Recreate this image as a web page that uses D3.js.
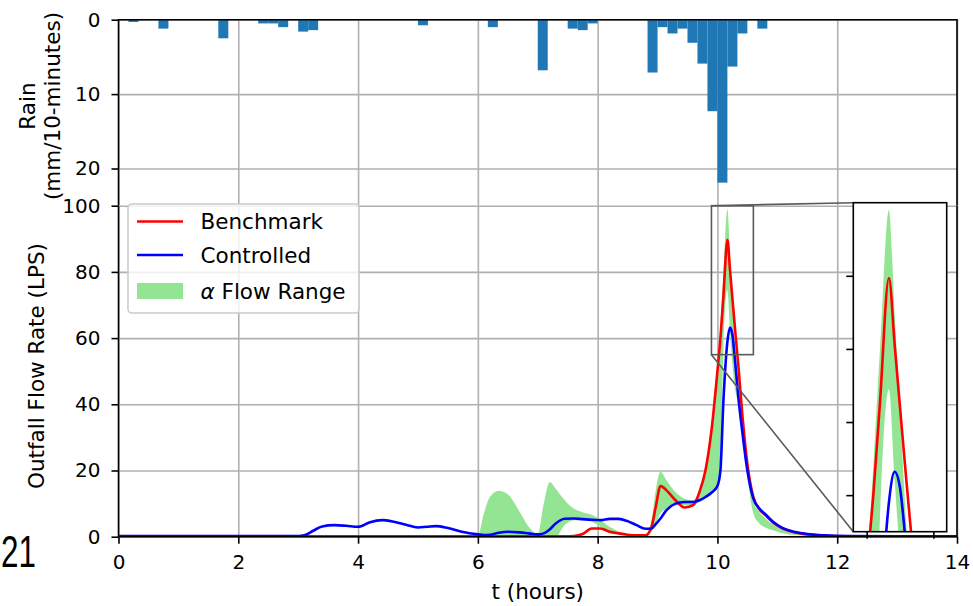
<!DOCTYPE html>
<html>
<head>
<meta charset="utf-8">
<script src="https://cdn.jsdelivr.net/npm/d3@7"></script>
<style>
  html, body { margin: 0; padding: 0; background: #fff; }
  svg { display: block; font-family: "DejaVu Sans", sans-serif; }
</style>
</head>
<body>
<svg id="chart" width="973" height="606"></svg>
<script>
// ---------------- DATA ----------------
// Rain: 10-minute bins (start time in hours), depth in mm
const rainTime = [0.1667, 0.6667, 1.6667, 2.3333, 2.5, 2.6667, 3.0, 3.1667, 5.0, 6.1667,
                  7.0, 7.5, 7.6667, 7.8333, 8.8333, 9.0, 9.1667, 9.3333, 9.5, 9.6667,
                  9.8333, 10.0, 10.1667, 10.3333, 10.6667];
const rainMm   = [0.3, 1.2, 2.5, 0.5, 0.5, 1.0, 1.6, 1.4, 0.75, 1.0,
                  6.8, 1.2, 1.4, 0.5, 7.1, 1.0, 1.85, 1.2, 3.1, 5.9,
                  12.3, 21.9, 6.3, 1.85, 1.2];

// Flow series (hours, LPS)
const timeH = [0, 1, 2, 3.0, 3.1, 3.25, 3.4, 3.6, 3.8, 4.0,
               4.2, 4.4, 4.6, 4.8, 5.0, 5.15, 5.3, 5.5, 5.75, 6.0,
               6.1, 6.2, 6.35, 6.5, 6.7, 6.85, 7.0, 7.1, 7.2, 7.3,
               7.45, 7.6, 7.75, 7.9, 8.05, 8.2, 8.35, 8.5, 8.65, 8.8,
               8.9, 8.97, 9.05, 9.15, 9.3, 9.45, 9.6, 9.7, 9.8, 9.9,
               10.0, 10.05, 10.1, 10.167, 10.21, 10.25, 10.3, 10.35, 10.42, 10.5,
               10.6, 10.7, 10.8, 10.95, 11.1, 11.3, 11.5, 11.8, 12.2, 13,
               14];
const benchmark = [0.1, 0.1, 0.1, 0.1, 0.1, 0.1, 0.1, 0.1, 0.1, 0.1,
                   0.1, 0.1, 0.1, 0.1, 0.1, 0.1, 0.1, 0.1, 0.1, 0.1,
                   0.1, 0.1, 0.1, 0.1, 0.1, 0.1, 0.1, 0.1, 0.1, 0.1,
                   0.1, 0.2, 0.8, 2.5, 2.5, 1.5, 1.0, 0.6, 0.4, 0.4,
                   3.0, 9.0, 15.3, 14.0, 11.0, 8.8, 9.6, 13.5, 20.0, 32.0,
                   50.0, 60.0, 72.7, 89.7, 80.6, 72.0, 61.5, 51.5, 36.0, 22.0,
                   12.0, 8.3, 6.5, 4.0, 2.4, 1.3, 0.7, 0.3, 0.15, 0.1,
                   0.1];
const controlled = [0.2, 0.2, 0.2, 0.2, 0.4, 1.8, 3.1, 3.5, 3.3, 3.0,
                    4.4, 5.0, 4.5, 3.6, 2.8, 3.0, 3.2, 2.6, 1.4, 0.7,
                    0.5, 0.6, 1.2, 1.5, 1.3, 1.0, 0.7, 1.0, 2.2, 4.0,
                    5.4, 5.5, 5.3, 5.1, 5.0, 5.4, 5.4, 4.7, 3.5, 2.4,
                    2.5, 3.8, 5.5, 8.0, 10.0, 10.5, 10.5, 11.0, 12.0, 13.3,
                    15.3, 20.0, 41.0, 59.0, 63.2, 61.0, 52.0, 42.0, 31.0, 20.0,
                    11.5, 8.5, 6.8, 4.2, 2.5, 1.4, 0.8, 0.4, 0.2, 0.1,
                    0.1];
const alphaHigh = [0, 0, 0, 0, 0, 0, 0, 0, 0, 0,
                   0, 0, 0, 0, 0, 0, 0, 0, 0, 0.3,
                   7.0, 12.0, 13.9, 12.8, 7.5, 3.0, 0.8, 10.0, 16.5, 14.5,
                   11.0, 8.5, 7.4, 6.6, 5.0, 3.0, 1.6, 0.8, 0.5, 0.5,
                   5.0, 14.0, 19.6, 17.0, 13.5, 11.5, 11.0, 14.0, 20.0, 33.0,
                   50.0, 64.0, 80.0, 99.0, 84.8, 71.6, 55.2, 45.0, 32.0, 20.0,
                   10.5, 7.5, 5.5, 3.5, 2.0, 1.0, 0.5, 0.2, 0.1, 0,
                   0];
const alphaLow = [0, 0, 0, 0, 0, 0, 0, 0, 0, 0,
                  0, 0, 0, 0, 0, 0, 0, 0, 0, 0,
                  0, 0, 0, 0, 0, 0, 0, 0, 0, 0,
                  3.5, 5.0, 5.0, 4.5, 3.0, 1.5, 0.8, 0.4, 0.3, 0.3,
                  1.5, 4.0, 7.0, 8.5, 9.5, 9.5, 9.5, 10.5, 11.5, 13.0,
                  16.0, 25.0, 57.0, 74.5, 62.0, 52.0, 44.0, 40.0, 29.0, 18.0,
                  7.0, 4.0, 2.8, 1.8, 1.0, 0.5, 0.2, 0.1, 0, 0,
                  0];

const xTicks = [0, 2, 4, 6, 8, 10, 12, 14];
const rainTicks = [0, 10, 20];
const flowTicks = [0, 20, 40, 60, 80, 100];
const insetXTicks = [10.0, 10.5];
const insetYTicks = [60, 70, 80, 90];
const seriesNames = ["Benchmark", "Controlled", "Flow Range"];

// ---------------- LAYOUT ----------------
const svg = d3.select("#chart");
const X0 = 118.5, X1 = 957;
const RT = 19.7, RB = 205.7;     // rain panel top/bottom
const FT = 205.7, FB = 536.7;    // flow panel top/bottom
const IX0 = 853.3, IX1 = 946.7, IT = 202.7, IB = 531.7; // inset box

const x = d3.scaleLinear().domain([0, 14]).range([X0, X1]);
const yR = d3.scaleLinear().domain([0, 25]).range([RT, RB]);
const yF = d3.scaleLinear().domain([0, 100]).range([FB, FT]);
const xi = d3.scaleLinear().domain([9.9, 10.6]).range([IX0, IX1]);
const yi = d3.scaleLinear().domain([55, 100]).range([IB, IT]);

const GRID = "#b0b0b0", GW = 1.6, SW = 1.6, TICK = 7, FS_TICK = 20, FS_LAB = 21.5;
const RED = "#ff0000", BLUE = "#0000ff", GREEN = "#93e593", RAIN = "#1f77b4";

const rows = timeH.map((t, i) => ({t, b: benchmark[i], c: controlled[i], lo: alphaLow[i], hi: alphaHigh[i]}));

const defs = svg.append("defs");
defs.append("clipPath").attr("id", "clipR").append("rect")
  .attr("x", X0).attr("y", RT).attr("width", X1 - X0).attr("height", RB - RT);
defs.append("clipPath").attr("id", "clipF").append("rect")
  .attr("x", X0).attr("y", FT).attr("width", X1 - X0).attr("height", FB - FT);
defs.append("clipPath").attr("id", "clipI").append("rect")
  .attr("x", IX0).attr("y", IT).attr("width", IX1 - IX0).attr("height", IB - IT);

function styleAxis(g, fs) {
  g.selectAll(".domain").remove();
  g.selectAll(".tick line").attr("stroke", "#000").attr("stroke-width", SW);
  g.selectAll(".tick text").attr("fill", "#000").attr("font-size", fs)
    .attr("font-family", "DejaVu Sans, sans-serif");
}
function gridify(g) {
  g.selectAll(".domain").remove();
  g.selectAll(".tick line").attr("stroke", GRID).attr("stroke-width", GW);
  g.selectAll(".tick text").remove();
}

// ---------------- RAIN PANEL ----------------
svg.append("g").attr("transform", `translate(0,${RB})`)
  .call(d3.axisBottom(x).tickValues(xTicks).tickSize(-(RB - RT)).tickFormat(""))
  .call(gridify);
svg.append("g").attr("transform", `translate(${X0},0)`)
  .call(d3.axisLeft(yR).tickValues(rainTicks).tickSize(-(X1 - X0)).tickFormat(""))
  .call(gridify);

const rainBinW = 1 / 6;
svg.append("g").attr("clip-path", "url(#clipR)")
  .selectAll("rect").data(rainTime.map((t, i) => ({t, v: rainMm[i]})))
  .join("rect")
  .attr("x", d => x(d.t))
  .attr("width", d => x(d.t + rainBinW) - x(d.t))
  .attr("y", yR(0))
  .attr("height", d => yR(d.v) - yR(0))
  .attr("fill", RAIN);

svg.append("g").attr("transform", `translate(${X0},0)`)
  .call(d3.axisLeft(yR).tickValues(rainTicks).tickSize(TICK).tickPadding(11).tickFormat(d3.format("d")))
  .call(g => styleAxis(g, FS_TICK));

svg.append("path").attr("d", `M${X0},${RB}V${RT}H${X1}V${RB}`)
  .attr("fill", "none").attr("stroke", "#000").attr("stroke-width", SW);

const rl = svg.append("text").attr("transform", `translate(40,106) rotate(-90)`)
  .attr("text-anchor", "middle").attr("font-size", FS_LAB).attr("fill", "#000");
rl.append("tspan").attr("x", 0).attr("y", -5).text("Rain");
rl.append("tspan").attr("x", 0).attr("y", 20).text("(mm/10-minutes)");

// ---------------- FLOW PANEL ----------------
svg.append("g").attr("transform", `translate(0,${FB})`)
  .call(d3.axisBottom(x).tickValues(xTicks).tickSize(-(FB - FT)).tickFormat(""))
  .call(gridify);
svg.append("g").attr("transform", `translate(${X0},0)`)
  .call(d3.axisLeft(yF).tickValues(flowTicks).tickSize(-(X1 - X0)).tickFormat(""))
  .call(gridify);

const curve = d3.curveMonotoneX;
function drawSeries(g, xs, ys) {
  g.append("path").datum(rows)
    .attr("d", d3.area().curve(curve).x(d => xs(d.t)).y0(d => ys(d.lo)).y1(d => ys(d.hi)))
    .attr("fill", GREEN).attr("stroke", "none");
  g.append("path").datum(rows)
    .attr("d", d3.line().curve(curve).x(d => xs(d.t)).y(d => ys(d.b)))
    .attr("fill", "none").attr("stroke", RED).attr("stroke-width", 2.6).attr("stroke-linejoin", "round");
  g.append("path").datum(rows)
    .attr("d", d3.line().curve(curve).x(d => xs(d.t)).y(d => ys(d.c)))
    .attr("fill", "none").attr("stroke", BLUE).attr("stroke-width", 2.6).attr("stroke-linejoin", "round");
}
drawSeries(svg.append("g").attr("clip-path", "url(#clipF)"), x, yF);

svg.append("g").attr("transform", `translate(${X0},0)`)
  .call(d3.axisLeft(yF).tickValues(flowTicks).tickSize(TICK).tickPadding(11).tickFormat(d3.format("d")))
  .call(g => styleAxis(g, FS_TICK));
svg.append("g").attr("transform", `translate(0,${FB})`)
  .call(d3.axisBottom(x).tickValues(xTicks).tickSize(TICK).tickPadding(11).tickFormat(d3.format("d")))
  .call(g => styleAxis(g, FS_TICK));

svg.append("path").attr("d", `M${X0},${FT}V${FB}H${X1}V${FT}`)
  .attr("fill", "none").attr("stroke", "#000").attr("stroke-width", SW);

svg.append("text").attr("transform", `translate(44,366) rotate(-90)`)
  .attr("text-anchor", "middle").attr("font-size", FS_LAB).attr("fill", "#000")
  .text("Outfall Flow Rate (LPS)");
svg.append("text").attr("x", (X0 + X1) / 2).attr("y", 599)
  .attr("text-anchor", "middle").attr("font-size", FS_LAB).attr("fill", "#000")
  .text("t (hours)");

// ---------------- LEGEND ----------------
const lg = svg.append("g");
lg.append("rect").attr("x", 128).attr("y", 204).attr("width", 231).attr("height", 109)
  .attr("rx", 4).attr("fill", "#fff").attr("fill-opacity", 0.8)
  .attr("stroke", "#cccccc").attr("stroke-width", 1.6);
const legendY = [221.5, 255, 291];
lg.append("line").attr("x1", 137).attr("x2", 183).attr("y1", legendY[0]).attr("y2", legendY[0])
  .attr("stroke", RED).attr("stroke-width", 2.6);
lg.append("line").attr("x1", 137).attr("x2", 183).attr("y1", legendY[1]).attr("y2", legendY[1])
  .attr("stroke", BLUE).attr("stroke-width", 2.6);
lg.append("rect").attr("x", 137).attr("y", legendY[2] - 8).attr("width", 46).attr("height", 16)
  .attr("fill", GREEN);
lg.append("text").attr("x", 200.5).attr("y", legendY[0] + 7.5).attr("font-size", FS_LAB).text(seriesNames[0]);
lg.append("text").attr("x", 200.5).attr("y", legendY[1] + 7.5).attr("font-size", FS_LAB).text(seriesNames[1]);
const lt = lg.append("text").attr("x", 200.5).attr("y", legendY[2] + 7.5).attr("font-size", FS_LAB);
lt.append("tspan").attr("font-style", "italic").text("α");
lt.append("tspan").text(" " + seriesNames[2]);

// ---------------- INSET ----------------
const INSET_EC = "#5a5a5a";
svg.append("rect").attr("x", x(9.9)).attr("y", yF(100))
  .attr("width", x(10.6) - x(9.9)).attr("height", yF(55) - yF(100))
  .attr("fill", "none").attr("stroke", INSET_EC).attr("stroke-width", 1.6);
svg.append("line").attr("x1", x(9.9)).attr("y1", yF(100)).attr("x2", IX0).attr("y2", IT)
  .attr("stroke", INSET_EC).attr("stroke-width", 1.6);
svg.append("line").attr("x1", x(9.9)).attr("y1", yF(55)).attr("x2", IX0).attr("y2", IB)
  .attr("stroke", INSET_EC).attr("stroke-width", 1.6);

svg.append("rect").attr("x", IX0).attr("y", IT).attr("width", IX1 - IX0).attr("height", IB - IT)
  .attr("fill", "#fff");
drawSeries(svg.append("g").attr("clip-path", "url(#clipI)"), xi, yi);
svg.append("g").attr("transform", `translate(${IX0},0)`)
  .call(d3.axisLeft(yi).tickValues(insetYTicks).tickSize(TICK).tickFormat(""))
  .call(g => styleAxis(g, FS_TICK));
svg.append("g").attr("transform", `translate(0,${IB})`)
  .call(d3.axisBottom(xi).tickValues(insetXTicks).tickSize(TICK).tickFormat(""))
  .call(g => styleAxis(g, FS_TICK));
svg.append("rect").attr("x", IX0).attr("y", IT).attr("width", IX1 - IX0).attr("height", IB - IT)
  .attr("fill", "none").attr("stroke", "#000").attr("stroke-width", SW);

// page number fragment at left (kept fully visible)
svg.append("text").attr("x", 1).attr("y", 567)
  .attr("font-family", "Liberation Sans, Arial, sans-serif").attr("font-size", 44).attr("fill", "#000")
  .attr("textLength", 35).attr("lengthAdjust", "spacingAndGlyphs")
  .text("21");
</script>
</body>
</html>
